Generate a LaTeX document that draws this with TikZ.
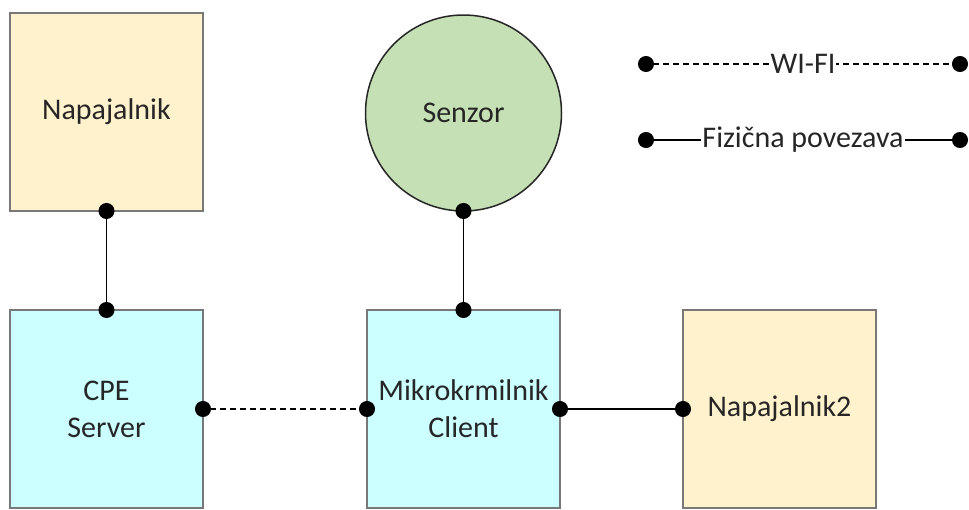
\documentclass[tikz,border=0pt]{standalone}
\usepackage{fontspec}
\setmainfont{Carlito}
\usetikzlibrary{positioning,arrows.meta}
\definecolor{napfill}{RGB}{255,242,204}
\definecolor{cpefill}{RGB}{204,255,255}
\definecolor{senfill}{RGB}{197,224,180}
\definecolor{boxline}{RGB}{120,120,120}
\definecolor{txt}{RGB}{38,38,38}

\begin{document}
\begin{tikzpicture}[x=1pt,y=-1pt,node distance=99pt,
                    font=\fontsize{30}{37}\selectfont]
  \tikzstyle{every node}=[text=txt]
  \tikzstyle{unit}=[draw=boxline, line width=2pt, outer sep=0pt, inner sep=0pt,
                    minimum width=193pt, minimum height=198pt, align=center]
  \tikzstyle{wire}=[draw=black, line width=1.5pt,
                    {Circle[length=16pt]}-{Circle[length=16pt]},
                    shorten >=-8pt, shorten <=-8pt]
  \tikzstyle{wifi}=[wire, dash pattern=on 6pt off 4pt]
  \tikzstyle{tag}=[fill=white, inner sep=1pt]

  \useasboundingbox (0,0) rectangle (969,509);

  \node[unit, fill=napfill] (nap)                       at (106.5,112) {Napajalnik};
  \node[unit, fill=cpefill] (cpe)  [below=99pt of nap]  {CPE\\Server};
  \node[unit, fill=cpefill] (mik)  [right=164pt of cpe] {Mikrokrmilnik\\Client};
  \node[unit, fill=napfill] (nap2) [right=123pt of mik] {Napajalnik2};
  \node[circle, draw=black!85, line width=1.5pt, fill=senfill, outer sep=0pt,
        minimum size=196pt] (sen) [above=99pt of mik] {Senzor};

  \coordinate (w1) at (646,64);
  \coordinate (w2) at (960,64);
  \coordinate (f1) at (646,140);
  \coordinate (f2) at (960,140);

  \path (nap.south) edge [wire] (cpe.north)
        (sen.south) edge [wire] (mik.north)
        (cpe.east)  edge [wifi] (mik.west)
        (mik.east)  edge [wire] (nap2.west)
        (w1)        edge [wifi] node [tag] {WI-FI} (w2)
        (f1)        edge [wire] node [tag] {Fizična povezava} (f2);

\end{tikzpicture}
\end{document}
